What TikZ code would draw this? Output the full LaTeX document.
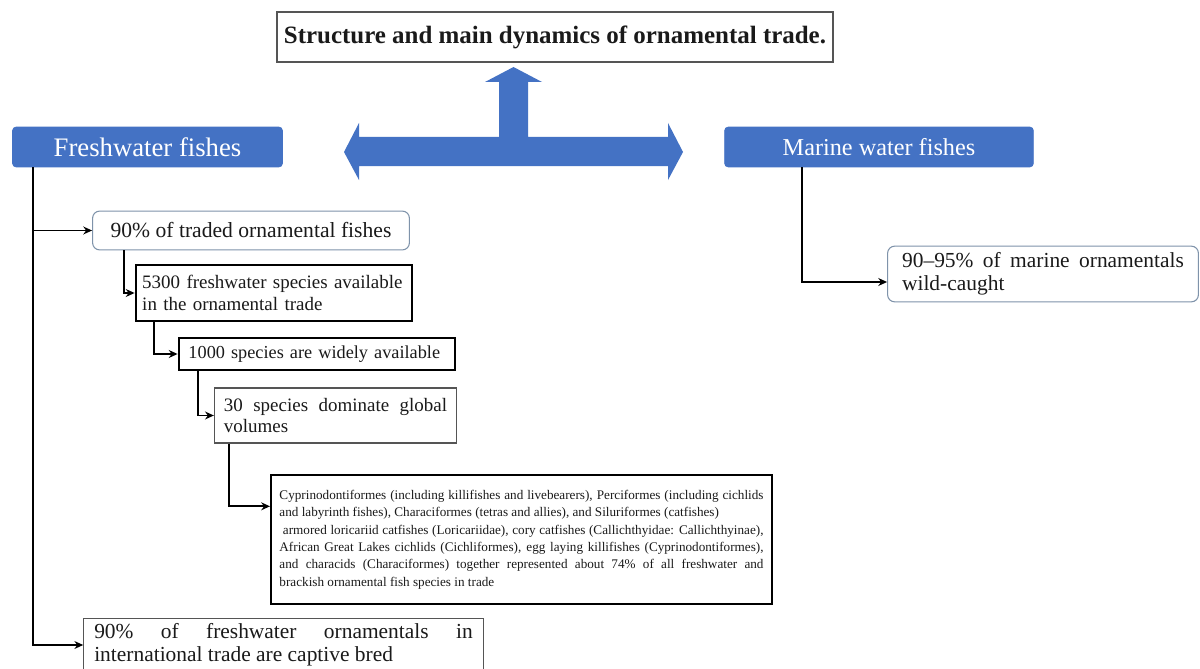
\documentclass[tikz,border=0pt]{standalone}
\usepackage{fontspec}
\setmainfont{Liberation Serif}
\usetikzlibrary{arrows.meta,calc}
\definecolor{fblue}{HTML}{4472C4}
\definecolor{txt}{HTML}{1A1A1A}
\definecolor{lbord}{HTML}{7F93AA}
\definecolor{gbord}{HTML}{555555}
\begin{document}
\begin{tikzpicture}[x=0.02cm,y=-0.02cm,
  every node/.style={text=txt, inner sep=0pt},
  headbox/.style={fill=fblue, draw=fblue, rounded corners=2pt, text=white, minimum height=22.7pt, align=center},
  thickbox/.style={draw=black, line width=1.1pt},
  greybox/.style={draw=gbord, line width=0.7pt},
  roundbox/.style={draw=lbord, line width=0.6pt, rounded corners=4pt},
  conn/.style={draw=black, line width=1.05pt, -{Stealth[length=5pt,width=4.5pt]}}]
\useasboundingbox (0,0) rectangle (1200,669);
\fill[white] (0,0) rectangle (1200,669);

\node[greybox, line width=0.8pt, minimum width=316.3pt, minimum height=28.3pt,
  font=\fontsize{14.2}{17}\selectfont\bfseries] (title) at (555,37)
  {Structure and main dynamics of ornamental trade.};

\node[headbox, minimum width=153.6pt, font=\fontsize{15.2}{18}\selectfont] (fw) at (147.5,147) {Freshwater fishes};
\node[headbox, minimum width=175.7pt, font=\fontsize{13.8}{16}\selectfont] (mar) at (879,147) {Marine water fishes};

\fill[fblue] (344,152) -- (359,123) -- (359,137) -- (499,137) -- (499,82) -- (485,82)
  -- (513.5,67) -- (542,82) -- (528,82) -- (528,137) -- (668,137) -- (668,123)
  -- (683,152) -- (668,180) -- (668,166) -- (359,166) -- (359,180) -- cycle;

\node[roundbox, minimum width=180.3pt, minimum height=22.1pt,
  font=\fontsize{12.3}{14}\selectfont] (n90) at (251,230.5) {90\% of traded ornamental fishes};

\node[thickbox, text width=150pt, inner xsep=3.8pt, minimum height=31.7pt, align=left,
  font=\fontsize{10.8}{12.5}\selectfont] (n5300) at (274,293)
  {5300 freshwater species available\\in the ornamental trade};

\node[thickbox, text width=146.3pt, inner xsep=5.65pt, minimum height=18.1pt, align=left,
  font=\fontsize{10.4}{12.5}\selectfont] (n1000) at (317,354)
  {\mbox{1000 species are widely available}};

\node[greybox, text width=127pt, inner xsep=5.4pt, minimum height=31.2pt, align=justify,
  font=\fontsize{10.8}{12.5}\selectfont] (n30) at (335.5,415.5)
  {30 species dominate global\linebreak volumes};

\node[thickbox, text width=275.5pt, inner xsep=4.85pt, minimum height=73.1pt, align=justify,
  font=\fontsize{7.5}{9.9}\selectfont] (nbig) at (521.5,539.5)
  {Cyprinodontiformes (including killifishes and livebearers), Perciformes (including cichlids\linebreak
   and labyrinth fishes), Characiformes (tetras and allies), and Siluriformes (catfishes)\newline
   \hspace*{2pt}armored loricariid catfishes (Loricariidae), cory catfishes (Callichthyidae: Callichthyinae),\linebreak
   African Great Lakes cichlids (Cichliformes), egg laying killifishes (Cyprinodontiformes),\linebreak
   and characids (Characiformes) together represented about 74\% of all freshwater and\linebreak
   brackish ornamental fish species in trade};

\node[greybox, text width=215.4pt, inner xsep=5.95pt, minimum height=30.6pt, align=justify,
  font=\fontsize{12.2}{13}\selectfont] (bot) at (283.5,645)
  {90\% of freshwater ornamentals in\linebreak international trade are captive bred};

\node[roundbox, text width=160.4pt, inner xsep=8.25pt, minimum height=31.7pt, align=justify,
  font=\fontsize{12.2}{13}\selectfont] (mw) at (1043,274)
  {90--95\% of marine ornamentals\linebreak wild-caught};

\draw[conn] ($(fw.south west)+(21,0)$) |- (n90.west);
\draw[conn] ($(fw.south west)+(21,0)$) |- (bot.west);
\draw[conn] ($(n90.south west)+(32,0)$) |- (n5300.west);
\draw[conn] ($(n5300.south west)+(19,0)$) |- (n1000.west);
\draw[conn] ($(n1000.south west)+(20,0)$) |- (n30.west);
\draw[conn] ($(n30.south west)+(15,0)$) |- ($(nbig.north west)+(0,32)$);
\draw[conn] ($(mar.south west)+(78,0)$) |- ($(mw.west)+(0,8)$);
\end{tikzpicture}
\end{document}
